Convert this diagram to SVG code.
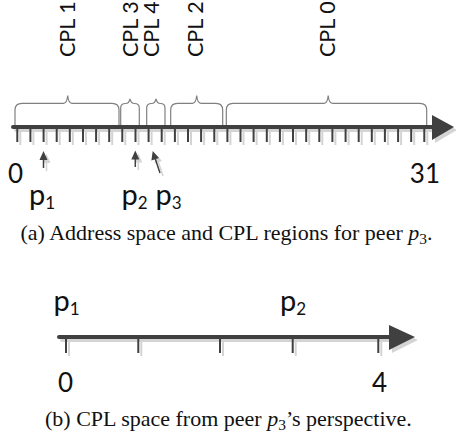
<svg xmlns="http://www.w3.org/2000/svg" width="456" height="438" viewBox="0 0 456 438">
  <style>
    .axis { stroke: #404040; stroke-width: 4; stroke-linecap: round; fill: none; }
    .tick { stroke: #404040; stroke-width: 2; fill: none; }
    .head { fill: #404040; }
    .brace { stroke: #808080; stroke-width: 1.2; fill: none; }
    .ptr { stroke: #404040; stroke-width: 1.5; fill: none; }
    .lbl { font-family: Lato, "Liberation Sans", sans-serif; fill: #111; }
    .cpl { font-size: 21.5px; }
    .num { font-size: 26px; }
    .peer { font-size: 29px; }
    .sub { font-size: 17px; }
    .cap { font-family: "Liberation Serif", "Times New Roman", serif; font-size: 22px; fill: #111; }
  </style>
  <defs>
    <filter id="shadow" filterUnits="userSpaceOnUse" x="0" y="0" width="456" height="438">
      <feDropShadow dx="3" dy="3" stdDeviation="0.6" flood-color="#000" flood-opacity="0.17"/>
    </filter>
  </defs>

  <!-- (a) address space axis with 32 ticks -->
  <g id="address-axis" filter="url(#shadow)">
    <line class="axis" x1="13" y1="127" x2="436" y2="127"/>
    <polygon class="head" points="432,115 454,127 432,140"/>
    <path class="tick" d="M17.3,127V142 M30.4,127V142 M43.6,127V142 M56.7,127V142 M69.8,127V142 M83,127V142 M96.1,127V142 M109.2,127V142 M122.3,127V142 M135.5,127V142 M148.6,127V142 M161.7,127V142 M174.9,127V142 M188,127V142 M201.1,127V142 M214.3,127V142 M227.4,127V142 M240.5,127V142 M253.6,127V142 M266.8,127V142 M279.9,127V142 M293,127V142 M306.2,127V142 M319.3,127V142 M332.4,127V142 M345.6,127V142 M358.7,127V142 M371.8,127V142 M384.9,127V142 M398.1,127V142 M411.2,127V142 M424.3,127V142"/>
  </g>

  <!-- CPL region braces -->
  <g id="braces">
    <path class="brace" d="M15,125V110Q15,103.3 22,103.3H63.5Q67,103.3 67.7,95.5Q68.4,103.3 72,103.3H112Q119,103.3 119,110V125"/>
    <path class="brace" d="M120.7,125V108Q120.7,103.5 125.5,103.5Q129,103.5 130,98.8Q131,103.5 134.5,103.5Q139.3,103.5 139.3,108V125"/>
    <path class="brace" d="M146.7,125V108Q146.7,103.5 151.5,103.5Q155,103.5 156,98.8Q157,103.5 160.5,103.5Q165,103.5 165,108V125"/>
    <path class="brace" d="M170.7,125V110Q170.7,103.3 177.5,103.3H192.5Q196,103.3 196.7,95.5Q197.4,103.3 201,103.3H216Q222.7,103.3 222.7,110V125"/>
    <path class="brace" d="M226.3,125V110Q226.3,103.3 233,103.3H324Q327.5,103.3 328.2,95.5Q328.9,103.3 332.5,103.3H420Q426.7,103.3 426.7,110V125"/>
  </g>

  <!-- CPL labels -->
  <g id="cpl-labels" class="lbl cpl">
    <text transform="translate(75,57) rotate(-90)">CPL 1</text>
    <text transform="translate(137.7,57) rotate(-90)">CPL 3</text>
    <text transform="translate(159,57) rotate(-90)">CPL 4</text>
    <text transform="translate(203,57) rotate(-90)">CPL 2</text>
    <text transform="translate(335,57) rotate(-90)">CPL 0</text>
  </g>

  <!-- peer pointers -->
  <g id="pointers" filter="url(#shadow)">
    <line class="ptr" x1="43.5" y1="158" x2="43.5" y2="168"/>
    <polygon class="head" points="43.5,151 39.5,160 47.5,160"/>
    <line class="ptr" x1="135.3" y1="158" x2="135.3" y2="167"/>
    <polygon class="head" points="135.3,150.5 131.3,159.5 139.3,159.5"/>
    <line class="ptr" x1="155" y1="158" x2="160" y2="173"/>
    <polygon class="head" points="152.7,151 151.4,160.6 159,158.1"/>
  </g>

  <g id="address-labels" class="lbl">
    <text class="num" x="8" y="183">0</text>
    <text class="num" x="440" y="183" text-anchor="end">31</text>
    <text class="peer" x="29" y="205">p<tspan class="sub" dy="4">1</tspan></text>
    <text class="peer" x="121.5" y="205">p<tspan class="sub" dy="4">2</tspan></text>
    <text class="peer" x="155.5" y="205">p<tspan class="sub" dy="4">3</tspan></text>
  </g>

  <text class="cap" x="20.5" y="240">(a) Address space and CPL regions for peer <tspan font-style="italic">p</tspan><tspan font-size="15.5" dy="3.5">3</tspan><tspan dy="-3.5">.</tspan></text>

  <!-- (b) CPL space axis -->
  <g id="cpl-axis" filter="url(#shadow)">
    <line class="axis" x1="59" y1="337" x2="392" y2="337"/>
    <polygon class="head" points="389,325 415,337 389,350"/>
    <path class="tick" d="M66,337V353 M138.3,337V353 M220,337V353 M292.7,337V353 M378.3,337V353"/>
  </g>

  <g id="cpl-labels-b" class="lbl">
    <text class="peer" x="53.5" y="311">p<tspan class="sub" dy="4">1</tspan></text>
    <text class="peer" x="280" y="311">p<tspan class="sub" dy="4">2</tspan></text>
    <text class="num" x="58" y="391.5">0</text>
    <text class="num" x="372" y="391.5">4</text>
  </g>

  <text class="cap" x="45" y="426">(b) CPL space from peer <tspan font-style="italic">p</tspan><tspan font-size="15.5" dy="3.5">3</tspan><tspan dy="-3.5">’s perspective.</tspan></text>
</svg>
